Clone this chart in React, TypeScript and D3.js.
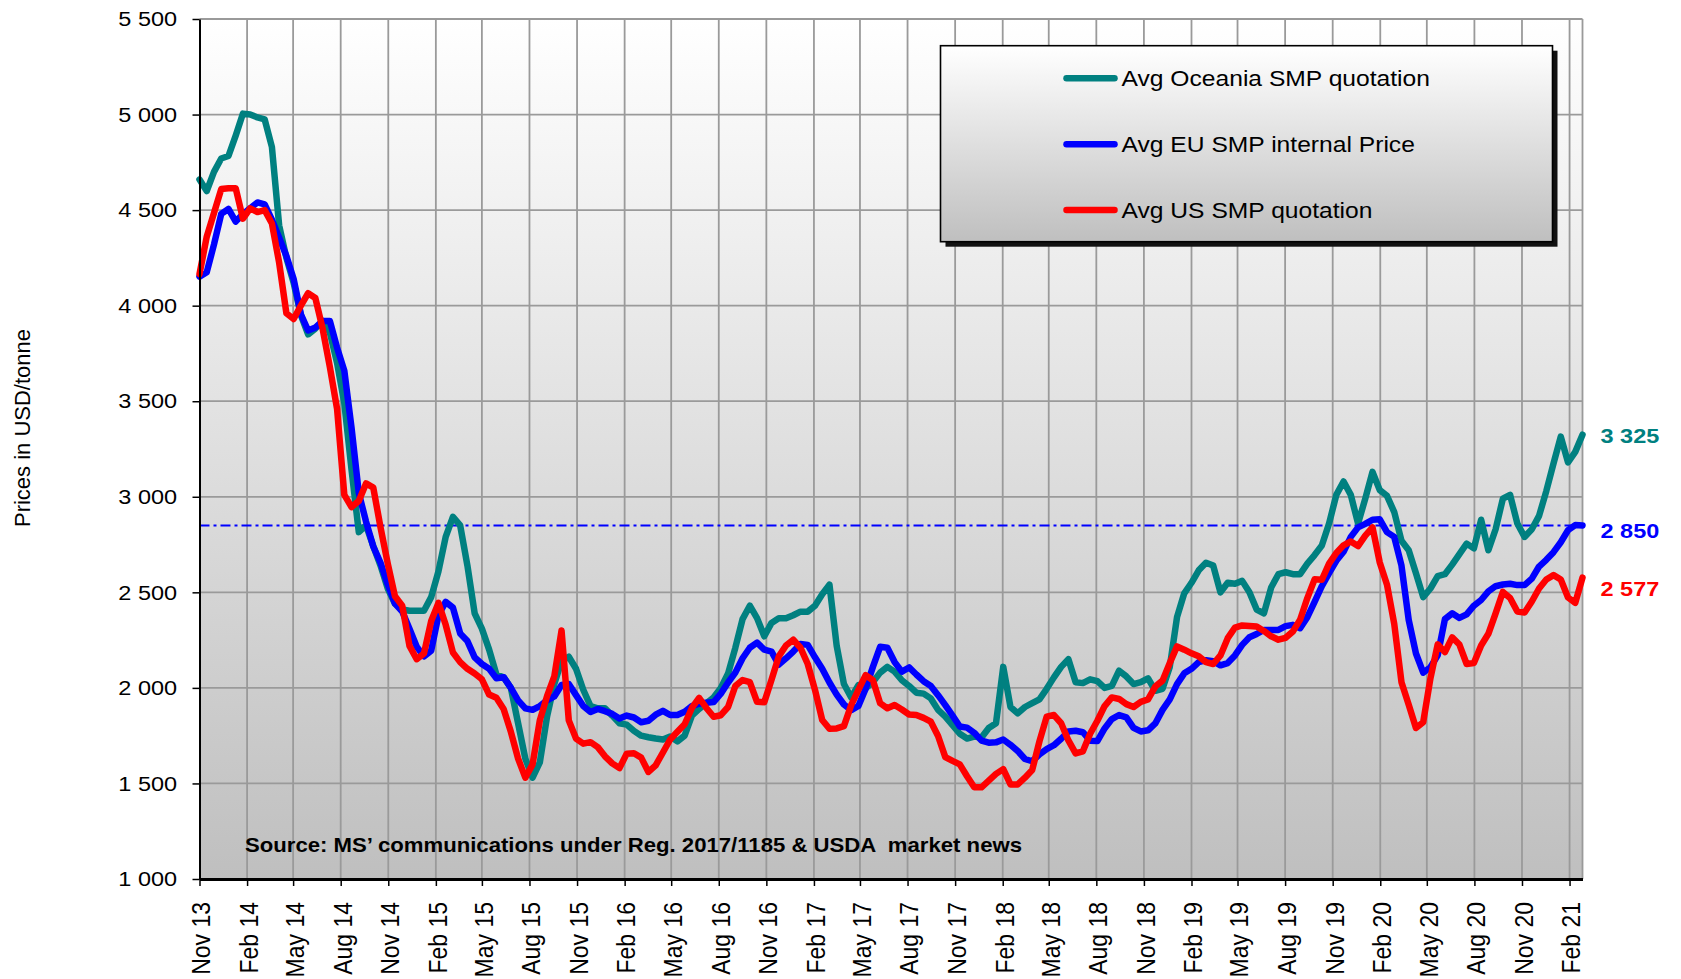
import React, { useEffect, useRef } from 'react';
import * as d3 from 'd3';

// fortnightly quotations, first one on 1 Nov 2013
const firstQuote = new Date(2013, 10, 1);
const stepDays = 14;

const oceaniaSmp = [
  4660, 4600, 4700, 4770, 4783, 4890, 5005, 5000, 4985, 4975,
  4830, 4420, 4250, 4120, 3950, 3850, 3880, 3920, 3860, 3700,
  3490, 3140, 2815, 2850, 2742, 2640, 2520, 2440, 2410, 2404,
  2404, 2404, 2475, 2610, 2790, 2895, 2850, 2640, 2390, 2310,
  2200, 2070, 2056, 2000, 1815, 1630, 1530, 1610, 1850, 2020,
  2140, 2163, 2100, 1990, 1905, 1893, 1893, 1855, 1815, 1808,
  1775, 1750, 1742, 1735, 1730, 1745, 1720, 1750, 1855, 1890,
  1920, 1950, 2000, 2075, 2210, 2360, 2430, 2365, 2270, 2340,
  2364, 2364, 2380, 2399, 2399, 2430, 2490, 2540, 2220, 2020,
  1950, 2015, 1998, 2030, 2080, 2110, 2085, 2040, 2010, 1975,
  1970, 1945, 1885, 1850, 1805, 1760, 1735, 1745, 1740, 1790,
  1815, 2110, 1900, 1867, 1900, 1920, 1940, 1995, 2055, 2110,
  2150, 2030, 2025, 2045, 2035, 2000, 2010, 2090, 2060, 2020,
  2030, 2050, 1985, 1995, 2110, 2370, 2495, 2550, 2615, 2655,
  2640, 2500, 2550, 2545, 2560, 2500, 2410, 2390, 2525, 2595,
  2605, 2595, 2595, 2650, 2695, 2745, 2860, 3010, 3080, 3010,
  2860, 2990, 3130, 3035, 3005, 2920, 2770, 2720, 2600, 2475,
  2520, 2585, 2595, 2645, 2700, 2755, 2730, 2880, 2720, 2830,
  2990, 3010, 2860, 2790, 2830, 2900, 3030, 3175, 3315, 3180,
  3235, 3325,
];

const euSmp = [
  4152, 4175, 4320, 4480, 4506, 4440, 4480, 4510, 4540, 4530,
  4450, 4355, 4260, 4140, 3955, 3870, 3885, 3920, 3920, 3780,
  3660, 3360, 3020, 2870, 2740, 2655, 2540, 2441, 2400, 2310,
  2215, 2165, 2195, 2380, 2450, 2420, 2285, 2245, 2160, 2125,
  2100, 2050, 2056, 2000, 1935, 1893, 1885, 1905, 1935, 1955,
  2015, 2020, 1962, 1905, 1874, 1890, 1878, 1864, 1840, 1855,
  1845, 1820, 1828, 1860, 1880, 1858, 1858, 1875, 1905, 1917,
  1922, 1926, 1970, 2028, 2080, 2155, 2210, 2237, 2200, 2190,
  2122, 2155, 2190, 2230, 2225, 2160, 2100, 2028, 1965, 1913,
  1883, 1905, 1995, 2110, 2215, 2210, 2135, 2085, 2107, 2070,
  2035, 2010, 1962, 1910, 1855, 1798, 1792, 1765, 1724, 1713,
  1715, 1730, 1702, 1670, 1628, 1616, 1652, 1680, 1700, 1734,
  1772, 1776, 1768, 1724, 1722, 1788, 1837, 1858, 1846, 1791,
  1772, 1778, 1814, 1885, 1940, 2020, 2076, 2100, 2135, 2145,
  2140, 2118, 2130, 2170, 2225, 2265, 2282, 2303, 2303, 2303,
  2323, 2330, 2312, 2370, 2450, 2532, 2600, 2665, 2712, 2790,
  2840, 2858, 2880, 2882, 2815, 2790, 2640, 2355, 2180, 2080,
  2108, 2170, 2360, 2390, 2366, 2385, 2430, 2460, 2505, 2532,
  2541, 2545, 2538, 2538, 2572, 2635, 2670, 2710, 2762, 2825,
  2852, 2850,
];

const usSmp = [
  4165, 4361, 4485, 4610, 4614, 4614, 4455, 4509, 4490, 4500,
  4430, 4225, 3960, 3930, 4000, 4065, 4040, 3880, 3680, 3460,
  3010, 2946, 2978, 3070, 3048, 2840, 2650, 2479, 2430, 2220,
  2150, 2180, 2350, 2445, 2330, 2185, 2135, 2100, 2075, 2045,
  1965, 1948, 1890, 1770, 1630, 1530, 1600, 1830, 1957, 2060,
  2300, 1830, 1735, 1708, 1716, 1690, 1642, 1605, 1580, 1656,
  1658, 1635, 1560, 1595, 1662, 1730, 1770, 1810, 1895, 1948,
  1895, 1849, 1857, 1900, 2010, 2041, 2030, 1927, 1925, 2042,
  2165, 2222, 2252, 2210, 2125, 1990, 1832, 1786, 1788, 1800,
  1910, 1990, 2067, 2040, 1920, 1893, 1910, 1887, 1861, 1858,
  1843, 1823, 1748, 1638, 1618, 1600, 1538, 1480, 1480, 1515,
  1550, 1575, 1495, 1495, 1530, 1570, 1720, 1850, 1858, 1815,
  1725, 1657, 1668, 1760, 1828, 1905, 1950, 1942, 1915, 1900,
  1927, 1940, 2007, 2038, 2130, 2217, 2200, 2181, 2165, 2135,
  2125, 2170, 2260, 2315, 2327, 2324, 2321, 2298, 2270, 2252,
  2262, 2295, 2357, 2470, 2568, 2566, 2650, 2706, 2746, 2766,
  2742, 2797, 2840, 2656, 2540, 2335, 2030, 1912, 1790, 1820,
  2050, 2228, 2187, 2264, 2227, 2125, 2130, 2222, 2283, 2390,
  2502, 2470, 2400, 2394, 2452, 2520, 2567, 2590, 2567, 2473,
  2445, 2577,
];

const seriesNames = ['Avg Oceania SMP quotation', 'Avg EU SMP internal Price', 'Avg US SMP quotation'];
const seriesColors = ['#008080', '#0000ff', '#ff0000'];
const referencePrice = 2850;
const priceTicks = [1000, 1500, 2000, 2500, 3000, 3500, 4000, 4500, 5000, 5500];
const sourceNote = 'Source: MS\u2019 communications under Reg. 2017/1185 & USDA  market news';

const FONT = '"Liberation Sans", Arial, sans-serif';
const SX = 1.12; // the original picture is a bit wider than tall

function SmpChart() {
  const ref = useRef<SVGSVGElement>(null);

  useEffect(() => {
    const svg = d3.select(ref.current);
    svg.selectAll('*').remove();

    const W = 1681, H = 979;
    const left = 199.5, right = 1582.5, top = 19, bottom = 879;
    const series = [oceaniaSmp, euSmp, usSmp];
    const dates = oceaniaSmp.map((_, i) => d3.timeDay.offset(firstQuote, stepDays * i));
    const quarterTicks = d3.timeMonth.range(firstQuote, new Date(2021, 2, 1), 3);

    const x = d3.scaleTime().domain([firstQuote, dates[dates.length - 1]]).range([left, right]);
    const y = d3.scaleLinear().domain([1000, 5500]).range([bottom, top]);
    const fmt = (v: number) => d3.format(',')(v).replace(/,/g, ' ');

    svg.attr('width', W).attr('height', H);
    svg.append('rect').attr('width', W).attr('height', H).attr('fill', '#fff');

    const grad = svg.append('defs').append('linearGradient')
      .attr('id', 'panelFill').attr('x1', 0).attr('y1', 0).attr('x2', 0).attr('y2', 1);
    grad.append('stop').attr('offset', 0).attr('stop-color', '#ffffff');
    grad.append('stop').attr('offset', 1).attr('stop-color', '#bfbfbf');

    // plot panel
    svg.append('rect')
      .attr('x', left).attr('y', top)
      .attr('width', right - left).attr('height', bottom - top)
      .attr('fill', 'url(#panelFill)');

    // grid
    const grid = svg.append('g').attr('stroke', '#9a9a9a').attr('stroke-width', 1.8);
    grid.selectAll('.hg')
      .data(priceTicks.filter(v => v > 1000))
      .join('line')
      .attr('x1', left).attr('x2', right)
      .attr('y1', d => y(d)).attr('y2', d => y(d));
    grid.selectAll('.vg')
      .data(quarterTicks.slice(1))
      .join('line')
      .attr('x1', d => x(d)).attr('x2', d => x(d))
      .attr('y1', top).attr('y2', bottom);
    grid.append('line').attr('x1', right).attr('x2', right).attr('y1', top).attr('y2', bottom);

    // reference level
    svg.append('line')
      .attr('x1', left).attr('x2', right)
      .attr('y1', y(referencePrice)).attr('y2', y(referencePrice))
      .attr('stroke', '#0000ff').attr('stroke-width', 2)
      .attr('stroke-dasharray', '10,4,3,4');

    // series
    const line = d3.line<number>()
      .x((_, i) => x(dates[i]))
      .y(d => y(d));
    svg.append('g').selectAll('path')
      .data(series)
      .join('path')
      .attr('d', d => line(d))
      .attr('fill', 'none')
      .attr('stroke', (_, i) => seriesColors[i])
      .attr('stroke-width', 6.5)
      .attr('stroke-linejoin', 'round')
      .attr('stroke-linecap', 'round');

    // y axis
    const yAxis = svg.append('g')
      .attr('transform', `translate(${left},0)`)
      .call(d3.axisLeft(y).tickValues(priceTicks).tickSize(7).tickSizeOuter(0).tickPadding(13).tickFormat(d => fmt(+d)));
    yAxis.select('.domain').attr('stroke', '#000').attr('stroke-width', 2);
    yAxis.selectAll('.tick line').attr('stroke', '#000').attr('stroke-width', 1.5);
    yAxis.selectAll('.tick text')
      .attr('font-family', FONT).attr('font-size', 21).attr('fill', '#000')
      .attr('transform', `scale(${SX},1)`);

    // x axis
    const xAxis = svg.append('g')
      .attr('transform', `translate(0,${bottom})`)
      .call(d3.axisBottom(x).tickValues(quarterTicks).tickSize(7).tickSizeOuter(0).tickFormat(d => d3.timeFormat('%b %y')(d as Date)));
    xAxis.select('.domain').attr('stroke', '#000').attr('stroke-width', 3);
    xAxis.selectAll('.tick line').attr('stroke', '#000').attr('stroke-width', 1.5);
    xAxis.selectAll('.tick text')
      .attr('font-family', FONT).attr('font-size', 23).attr('fill', '#000')
      .attr('transform', `rotate(-90) scale(1,${SX})`)
      .attr('x', -23).attr('y', 0).attr('dy', '0.4em')
      .style('text-anchor', 'end');

    // y title
    svg.append('text')
      .attr('transform', `translate(30,428) rotate(-90)`)
      .attr('text-anchor', 'middle')
      .attr('font-family', FONT).attr('font-size', 22).attr('fill', '#000')
      .text('Prices in USD/tonne');

    // source note
    svg.append('text')
      .attr('x', 245).attr('y', 851.5)
      .attr('font-family', FONT).attr('font-size', 21).attr('font-weight', 'bold').attr('fill', '#000')
      .attr('textLength', 777).attr('lengthAdjust', 'spacingAndGlyphs')
      .style('white-space', 'pre')
      .text(sourceNote);

    // legend
    const lg = svg.append('g').attr('transform', 'translate(940.5,45.7)');
    const lw = 612, lh = 196;
    lg.append('rect').attr('x', 5).attr('y', 5).attr('width', lw).attr('height', lh).attr('fill', '#111');
    lg.append('rect').attr('width', lw).attr('height', lh)
      .attr('fill', 'url(#panelFill)').attr('stroke', '#000').attr('stroke-width', 1.6);
    const items = lg.selectAll('.item')
      .data(seriesNames)
      .join('g')
      .attr('transform', (_, i) => `translate(0,${32.6 + i * 65.9})`);
    items.append('line')
      .attr('x1', 126).attr('x2', 174)
      .attr('stroke', (_, i) => seriesColors[i]).attr('stroke-width', 6.5).attr('stroke-linecap', 'round');
    items.append('text')
      .attr('transform', `translate(181,8) scale(${SX},1)`)
      .attr('font-family', FONT).attr('font-size', 22).attr('fill', '#000')
      .text(d => d);

    // closing values
    const nudge = [1, 5, 11];
    svg.append('g').selectAll('text')
      .data(series)
      .join('text')
      .attr('transform', (d, i) => `translate(1600.5,${y(d[d.length - 1]) + nudge[i] + 7.5}) scale(${SX},1)`)
      .attr('font-family', FONT).attr('font-size', 21).attr('font-weight', 'bold')
      .attr('fill', (_, i) => seriesColors[i])
      .text(d => fmt(d[d.length - 1]));
  }, []);

  return <svg ref={ref} style={{ display: 'block' }} />;
}

export default function App() {
  return (
    <div style={{ position: 'absolute', left: 0, top: 0 }}>
      <SmpChart />
    </div>
  );
}
